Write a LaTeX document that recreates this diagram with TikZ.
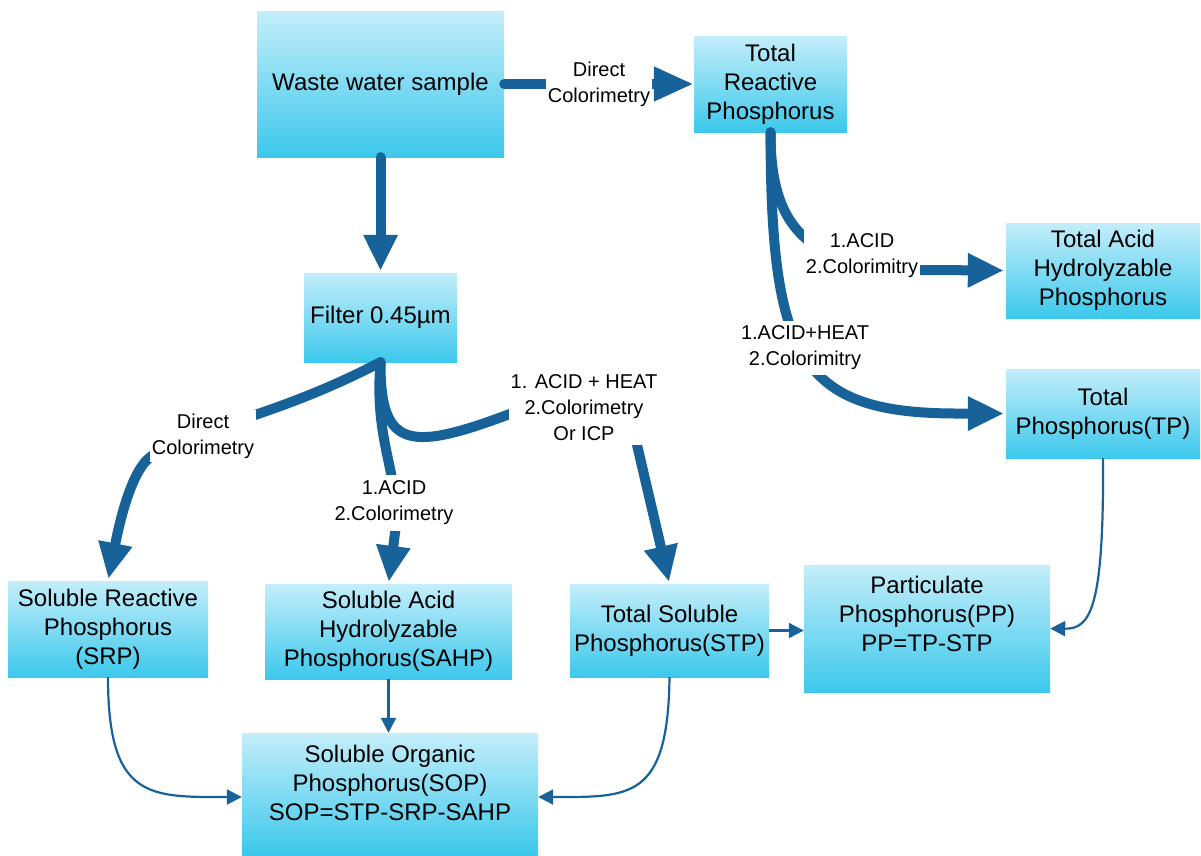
\documentclass[tikz,border=0pt]{standalone}
\usepackage{fontspec}
\setmainfont{Liberation Sans}
\usetikzlibrary{arrows.meta,calc}
\definecolor{btop}{HTML}{C4EEFA}
\definecolor{bbot}{HTML}{3CC8EC}
\definecolor{ablue}{HTML}{18629A}
\newcommand{\boxfnt}{\fontsize{24}{29}\selectfont}
\newcommand{\labfnt}{\fontsize{20}{26}\selectfont}
\tikzset{
  pbox/.style={rectangle, top color=btop, bottom color=bbot, draw=none,
    align=center, font=\boxfnt, inner sep=0pt},
  thickarr/.style={line width=10pt, draw=ablue, line cap=round,
    -{Triangle[length=36pt,width=32pt]}},
  thinarr/.style={line width=2.2pt, draw=ablue,
    -{Triangle[length=15pt,width=15pt]}},
  lab/.style={fill=white, font=\labfnt, align=center, inner xsep=2pt, inner ysep=4pt}
}
\begin{document}
\begin{tikzpicture}[x=1pt,y=-1pt]
\fill[white] (0,0) rectangle (1201,855);
\useasboundingbox (0,0) rectangle (1201,855);
% boxes
\node[pbox, minimum width=247pt, minimum height=146pt] (waste) at (380.5,84) {Waste water sample};
\node[pbox, minimum width=153pt, minimum height=96pt] (trp) at (770.5,84) {Total\\Reactive\\Phosphorus};
\node[pbox, minimum width=194pt, minimum height=95pt] (tahp) at (1103,270.5) {Total Acid\\Hydrolyzable\\Phosphorus};
\node[pbox, minimum width=153pt, minimum height=89pt] (filter) at (380.5,317.5) {Filter 0.45µm};
\node[pbox, minimum width=194pt, minimum height=89pt] (tp) at (1103,413.5) {Total\\Phosphorus(TP)};
\node[pbox, minimum width=200pt, minimum height=96pt] (srp) at (108,629) {Soluble Reactive\\Phosphorus\\(SRP)};
\node[pbox, minimum width=247pt, minimum height=95pt] (sahp) at (388.5,631.5) {Soluble Acid\\Hydrolyzable\\Phosphorus(SAHP)};
\node[pbox, minimum width=199pt, minimum height=93pt] (stp) at (669.5,630.5) {Total Soluble\\Phosphorus(STP)};
\node[pbox, minimum width=246pt, minimum height=127pt] (pp) at (927,628.5) {Particulate\\Phosphorus(PP)\\PP=TP-STP\\\mbox{}};
\node[pbox, minimum width=296pt, minimum height=122pt] (sop) at (390,794) {Soluble Organic\\Phosphorus(SOP)\\SOP=STP-SRP-SAHP\\[-6pt]\mbox{}};
% thick connectors
\draw[thickarr, -{Triangle[length=40pt,width=32pt]}] (waste.east) -- (trp.west);
\draw[thickarr, shorten >=2pt] (waste.south) -- (filter.north);
\draw[thickarr, shorten >=2pt] (trp.south) .. controls (770.5,220) and (800,268) .. (920,270) -- (tahp.west);
\draw[thickarr, shorten >=2pt] (trp.south) .. controls (771,360) and (800,414) .. (960,413.5) -- (tp.west);
\draw[thickarr, shorten >=2pt] (filter.south) .. controls (260,425) and (175,430) .. (145,462) .. controls (128,482) and (118,530) .. (srp.north);
\draw[thickarr, shorten >=2pt] (filter.south) .. controls (374,440) and (398,470) .. (396,525) -- (sahp.north);
\draw[thickarr, shorten >=2pt, line join=round] (filter.south) .. controls (380,450) and (410,452) .. (515,412) -- (634,432) -- (stp.north);
% labels on thick connectors
\node[lab] (l1) at (599,84) {Direct\\Colorimetry};
\node[lab, inner ysep=11pt] (l2) at (862,256) {1.ACID\\2.Colorimitry};
\node[lab, inner ysep=5pt] (l3) at (805,348) {1.ACID+HEAT\\2.Colorimitry};
\node[lab] (l4) at (203,436) {Direct\\Colorimetry};
\node[lab, inner ysep=6pt] (l5) at (394,503) {1.ACID\\2.Colorimetry};
\node[lab] (l6) at (584,408) {1. ACID + HEAT\\2.Colorimetry\\Or ICP};
% thin connectors
\draw[thinarr] (srp.south) .. controls (108,800) and (150,797) .. ($(sop.west)+(0,3)$);
\draw[thinarr] (sahp.south) -- (sahp.south |- sop.north);
\draw[thinarr] (stp.south) .. controls (668,800) and (630,797) .. ($(sop.east)+(0,3)$);
\draw[thinarr] (stp.east) -- (stp.east -| pp.west);
\draw[thinarr] (tp.south) .. controls (1104,610) and (1090,629) .. (pp.east);
\end{tikzpicture}
\end{document}
